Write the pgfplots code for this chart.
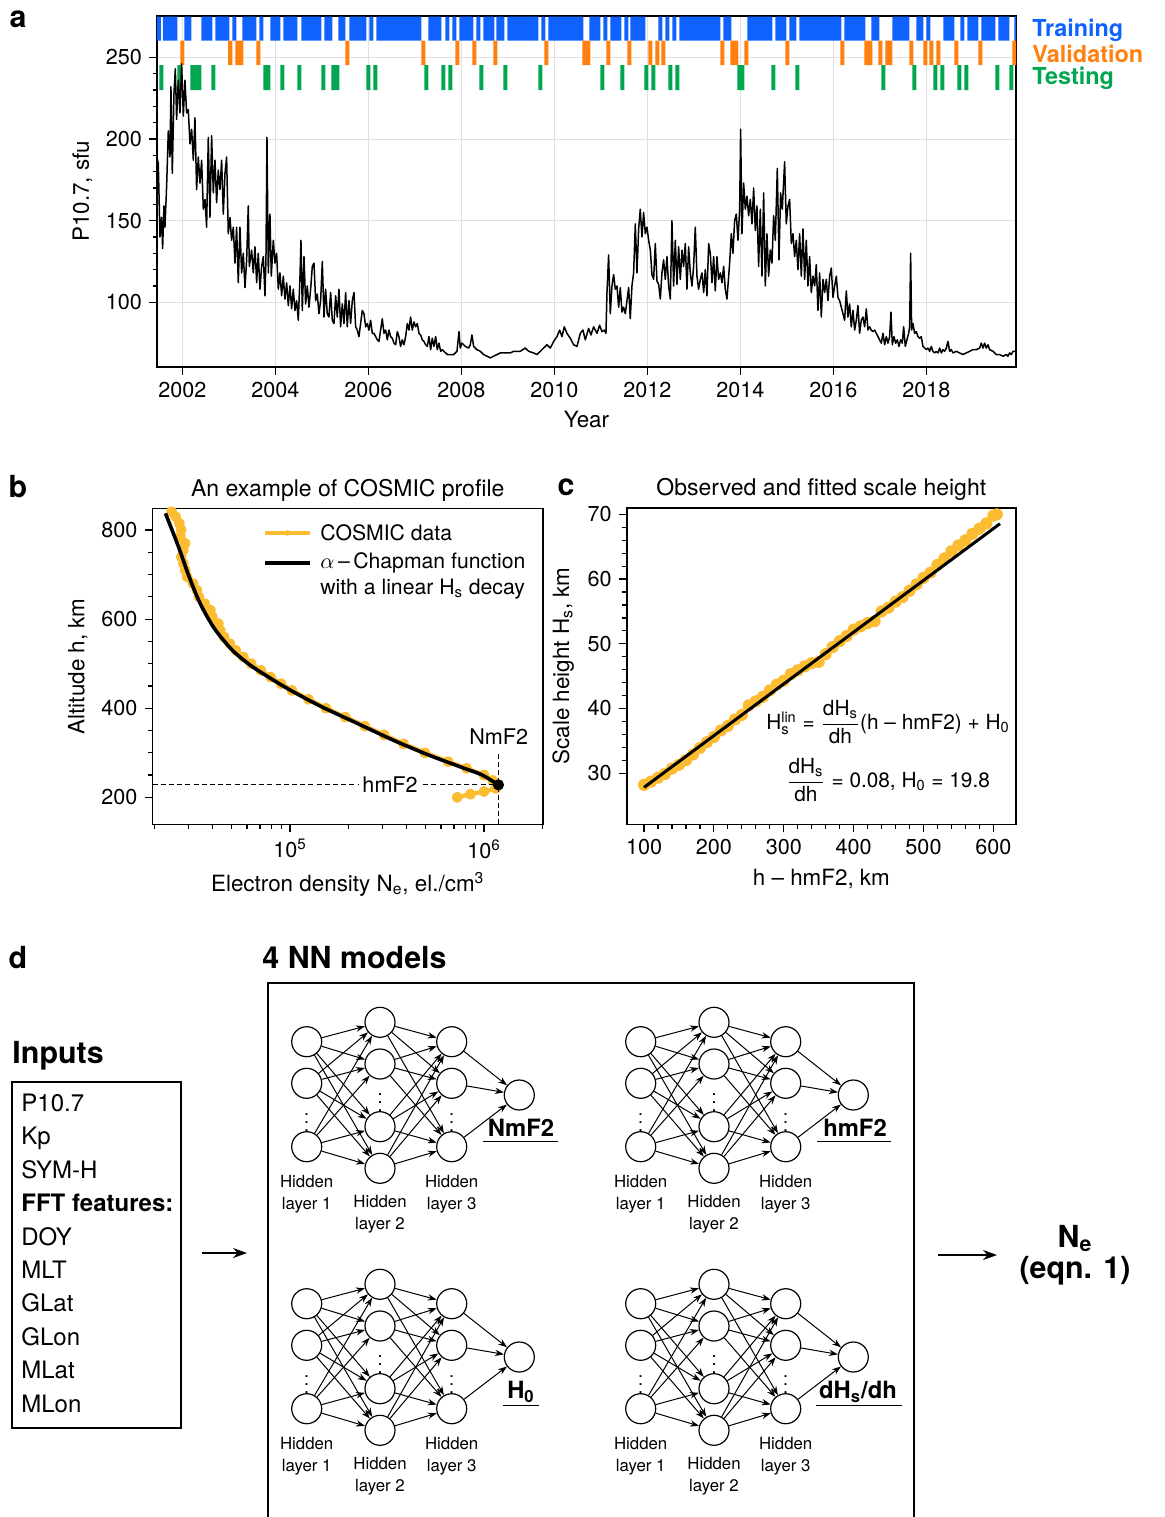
\documentclass[border=0pt]{standalone}
\usepackage{fontspec}
\setmainfont{TeX Gyre Heros}
\usepackage{pgfplots}
\pgfplotsset{compat=1.18}
\usetikzlibrary{arrows.meta}

\definecolor{cblue}{HTML}{0F62FE}
\definecolor{corange}{HTML}{FF800E}
\definecolor{cgreen}{HTML}{00A650}
\definecolor{cgold}{HTML}{FCBC32}

\pgfplotsset{
  base/.style={scale only axis, anchor=south west, tick align=outside, tick pos=left,
    major tick length=4pt, minor tick length=2.2pt,
    every tick/.style={line width=0.6pt, black},
    axis line style={line width=0.8pt},
    tick label style={font=\fontsize{10.8}{12}\selectfont},
    label style={font=\fontsize{11.2}{13}\selectfont},
    title style={font=\fontsize{11.5}{13}\selectfont, yshift=-6pt},
    /pgf/number format/assume math mode=true,
    /pgf/number format/1000 sep={}},
}
\tikzset{
  neuron/.style={circle, draw, line width=0.6pt, minimum size=15pt, inner sep=0pt},
  conn/.style={-{Stealth[length=4.5pt,width=3.2pt]}, line width=0.5pt},
  lab/.style={align=center, inner sep=0pt, font=\fontsize{8.4}{11}\selectfont},
  outlab/.style={anchor=base, inner sep=0pt, font=\bfseries\fontsize{11.9}{12}\selectfont},
  big/.style={inner sep=0pt, font=\bfseries\fontsize{15.2}{15.5}\selectfont},
}

% one network sketch, shifted by (#1,#2) pixels
\newcommand{\nnmodel}[2]{%
\begin{scope}[shift={(#1,#2)}]
  \node[neuron] (a1) at (306.7,1041.7) {};
  \node[neuron] (a2) at (306.7,1083.3) {};
  \node[neuron] (a3) at (306.7,1146.7) {};
  \node[neuron] (b1) at (380,1022.3) {};
  \node[neuron] (b2) at (380,1064) {};
  \node[neuron] (b3) at (380,1126.7) {};
  \node[neuron] (b4) at (380,1168.3) {};
  \node[neuron] (c1) at (451.7,1041.7) {};
  \node[neuron] (c2) at (451.7,1083.3) {};
  \node[neuron] (c3) at (451.7,1146.7) {};
  \node[neuron] (o) at (519.3,1095) {};
  \foreach \i in {1,2,3}{\foreach \j in {1,2,3,4}{%
    \draw[conn] (a\i) -- (b\j); \draw[conn] (b\j) -- (c\i);}}
  \foreach \i in {1,2,3}{\draw[conn] (c\i) -- (o);}
  \foreach \xx/\yy in {306.7/1116.7, 380/1096.7, 451.7/1116.7}
    \node[inner sep=0pt, font=\fontsize{9}{9}\selectfont] at (\xx,\yy) {$\vdots$};
  \node[lab] at (306.7,1194) {Hidden\\layer 1};
  \node[lab] at (380,1214) {Hidden\\layer 2};
  \node[lab] at (451.7,1194) {Hidden\\layer 3};
\end{scope}}

\begin{document}
\begin{tikzpicture}[x=0.5pt,y=-0.5pt]
\useasboundingbox (0,0) rectangle (1164,1517);

% ---------------- panel a ----------------
\begin{axis}[base, at={(78.5pt,-183.35pt)}, width=429.5pt, height=175.5pt,
  xmin=2001.456, xmax=2019.929, ymin=60.56, ymax=275.5,
  xtick={2002,2004,...,2018}, minor x tick num=3,
  ytick={100,150,200,250}, minor y tick num=4,
  grid=major, major grid style={line width=0.5pt, black!12},
  xlabel={Year}, ylabel={P10.7, sfu}, unbounded coords=jump]
% training
\addplot[fill=cblue, draw=none] coordinates {
(2001.456,260.2)(2001.542,260.2)(2001.542,274.9)(2001.456,274.9)(nan,nan)
(2001.585,260.2)(2001.892,260.2)(2001.892,274.9)(2001.585,274.9)(nan,nan)
(2002.043,260.2)(2002.194,260.2)(2002.194,274.9)(2002.043,274.9)(nan,nan)
(2002.409,260.2)(2002.645,260.2)(2002.645,274.9)(2002.409,274.9)(nan,nan)
(2002.710,260.2)(2003.011,260.2)(2003.011,274.9)(2002.710,274.9)(nan,nan)
(2003.075,260.2)(2003.161,260.2)(2003.161,274.9)(2003.075,274.9)(nan,nan)
(2003.290,260.2)(2003.591,260.2)(2003.591,274.9)(2003.290,274.9)(nan,nan)
(2003.656,260.2)(2003.742,260.2)(2003.742,274.9)(2003.656,274.9)(nan,nan)
(2003.892,260.2)(2004.108,260.2)(2004.108,274.9)(2003.892,274.9)(nan,nan)
(2004.172,260.2)(2004.473,260.2)(2004.473,274.9)(2004.172,274.9)(nan,nan)
(2004.559,260.2)(2004.989,260.2)(2004.989,274.9)(2004.559,274.9)(nan,nan)
(2005.054,260.2)(2005.226,260.2)(2005.226,274.9)(2005.054,274.9)(nan,nan)
(2005.355,260.2)(2005.505,260.2)(2005.505,274.9)(2005.355,274.9)(nan,nan)
(2005.591,260.2)(2005.957,260.2)(2005.957,274.9)(2005.591,274.9)(nan,nan)
(2006.022,260.2)(2006.108,260.2)(2006.108,274.9)(2006.022,274.9)(nan,nan)
(2006.172,260.2)(2007.140,260.2)(2007.140,274.9)(2006.172,274.9)(nan,nan)
(2007.290,260.2)(2007.570,260.2)(2007.570,274.9)(2007.290,274.9)(nan,nan)
(2007.656,260.2)(2007.742,260.2)(2007.742,274.9)(2007.656,274.9)(nan,nan)
(2007.806,260.2)(2007.892,260.2)(2007.892,274.9)(2007.806,274.9)(nan,nan)
(2007.957,260.2)(2008.258,260.2)(2008.258,274.9)(2007.957,274.9)(nan,nan)
(2008.323,260.2)(2008.409,260.2)(2008.409,274.9)(2008.323,274.9)(nan,nan)
(2008.473,260.2)(2008.710,260.2)(2008.710,274.9)(2008.473,274.9)(nan,nan)
(2008.753,260.2)(2008.925,260.2)(2008.925,274.9)(2008.753,274.9)(nan,nan)
(2008.989,260.2)(2009.656,260.2)(2009.656,274.9)(2008.989,274.9)(nan,nan)
(2009.720,260.2)(2009.806,260.2)(2009.806,274.9)(2009.720,274.9)(nan,nan)
(2009.871,260.2)(2010.624,260.2)(2010.624,274.9)(2009.871,274.9)(nan,nan)
(2010.753,260.2)(2010.989,260.2)(2010.989,274.9)(2010.753,274.9)(nan,nan)
(2011.054,260.2)(2011.140,260.2)(2011.140,274.9)(2011.054,274.9)(nan,nan)
(2011.204,260.2)(2011.441,260.2)(2011.441,274.9)(2011.204,274.9)(nan,nan)
(2011.505,260.2)(2011.591,260.2)(2011.591,274.9)(2011.505,274.9)(nan,nan)
(2011.634,260.2)(2011.957,260.2)(2011.957,274.9)(2011.634,274.9)(nan,nan)
(2012.237,260.2)(2012.323,260.2)(2012.323,274.9)(2012.237,274.9)(nan,nan)
(2012.387,260.2)(2012.473,260.2)(2012.473,274.9)(2012.387,274.9)(nan,nan)
(2012.538,260.2)(2012.624,260.2)(2012.624,274.9)(2012.538,274.9)(nan,nan)
(2012.688,260.2)(2013.570,260.2)(2013.570,274.9)(2012.688,274.9)(nan,nan)
(2013.634,260.2)(2013.806,260.2)(2013.806,274.9)(2013.634,274.9)(nan,nan)
(2014.151,260.2)(2014.688,260.2)(2014.688,274.9)(2014.151,274.9)(nan,nan)
(2014.753,260.2)(2014.989,260.2)(2014.989,274.9)(2014.753,274.9)(nan,nan)
(2015.054,260.2)(2015.204,260.2)(2015.204,274.9)(2015.054,274.9)(nan,nan)
(2015.269,260.2)(2016.172,260.2)(2016.172,274.9)(2015.269,274.9)(nan,nan)
(2016.237,260.2)(2016.688,260.2)(2016.688,274.9)(2016.237,274.9)(nan,nan)
(2016.817,260.2)(2016.989,260.2)(2016.989,274.9)(2016.817,274.9)(nan,nan)
(2017.269,260.2)(2017.634,260.2)(2017.634,274.9)(2017.269,274.9)(nan,nan)
(2017.785,260.2)(2017.935,260.2)(2017.935,274.9)(2017.785,274.9)(nan,nan)
(2018.000,260.2)(2018.086,260.2)(2018.086,274.9)(2018.000,274.9)(nan,nan)
(2018.366,260.2)(2018.602,260.2)(2018.602,274.9)(2018.366,274.9)(nan,nan)
(2018.731,260.2)(2018.817,260.2)(2018.817,274.9)(2018.731,274.9)(nan,nan)
(2018.882,260.2)(2019.118,260.2)(2019.118,274.9)(2018.882,274.9)(nan,nan)
(2019.183,260.2)(2019.484,260.2)(2019.484,274.9)(2019.183,274.9)(nan,nan)
(2019.548,260.2)(2019.785,260.2)(2019.785,274.9)(2019.548,274.9)(nan,nan)
(2019.892,260.2)(2019.929,260.2)(2019.929,274.9)(2019.892,274.9)};
% validation
\addplot[fill=corange, draw=none] coordinates {
(2001.957,245.2)(2002.043,245.2)(2002.043,260.2)(2001.957,260.2)(nan,nan)
(2002.983,245.2)(2003.075,245.2)(2003.075,260.2)(2002.983,260.2)(nan,nan)
(2003.140,245.2)(2003.312,245.2)(2003.312,260.2)(2003.140,260.2)(nan,nan)
(2003.591,245.2)(2003.677,245.2)(2003.677,260.2)(2003.591,260.2)(nan,nan)
(2005.505,245.2)(2005.591,245.2)(2005.591,260.2)(2005.505,260.2)(nan,nan)
(2007.140,245.2)(2007.226,245.2)(2007.226,260.2)(2007.140,260.2)(nan,nan)
(2007.871,245.2)(2007.957,245.2)(2007.957,260.2)(2007.871,260.2)(nan,nan)
(2008.237,245.2)(2008.323,245.2)(2008.323,260.2)(2008.237,260.2)(nan,nan)
(2008.688,245.2)(2008.774,245.2)(2008.774,260.2)(2008.688,260.2)(nan,nan)
(2009.785,245.2)(2009.871,245.2)(2009.871,260.2)(2009.785,260.2)(nan,nan)
(2010.602,245.2)(2010.774,245.2)(2010.774,260.2)(2010.602,260.2)(nan,nan)
(2011.118,245.2)(2011.204,245.2)(2011.204,260.2)(2011.118,260.2)(nan,nan)
(2011.570,245.2)(2011.656,245.2)(2011.656,260.2)(2011.570,260.2)(nan,nan)
(2012.022,245.2)(2012.108,245.2)(2012.108,260.2)(2012.022,260.2)(nan,nan)
(2012.172,245.2)(2012.258,245.2)(2012.258,260.2)(2012.172,260.2)(nan,nan)
(2012.301,245.2)(2012.387,245.2)(2012.387,260.2)(2012.301,260.2)(nan,nan)
(2013.570,245.2)(2013.656,245.2)(2013.656,260.2)(2013.570,260.2)(nan,nan)
(2013.785,245.2)(2013.957,245.2)(2013.957,260.2)(2013.785,260.2)(nan,nan)
(2014.086,245.2)(2014.172,245.2)(2014.172,260.2)(2014.086,260.2)(nan,nan)
(2014.968,245.2)(2015.054,245.2)(2015.054,260.2)(2014.968,260.2)(nan,nan)
(2016.151,245.2)(2016.237,245.2)(2016.237,260.2)(2016.151,260.2)(nan,nan)
(2016.667,245.2)(2016.839,245.2)(2016.839,260.2)(2016.667,260.2)(nan,nan)
(2016.968,245.2)(2017.054,245.2)(2017.054,260.2)(2016.968,260.2)(nan,nan)
(2017.118,245.2)(2017.269,245.2)(2017.269,260.2)(2017.118,260.2)(nan,nan)
(2017.634,245.2)(2017.720,245.2)(2017.720,260.2)(2017.634,260.2)(nan,nan)
(2017.935,245.2)(2018.022,245.2)(2018.022,260.2)(2017.935,260.2)(nan,nan)
(2018.065,245.2)(2018.151,245.2)(2018.151,260.2)(2018.065,260.2)(nan,nan)
(2018.215,245.2)(2018.301,245.2)(2018.301,260.2)(2018.215,260.2)(nan,nan)
(2018.602,245.2)(2018.688,245.2)(2018.688,260.2)(2018.602,260.2)(nan,nan)
(2019.118,245.2)(2019.204,245.2)(2019.204,260.2)(2019.118,260.2)(nan,nan)
(2019.849,245.2)(2019.929,245.2)(2019.929,260.2)(2019.849,260.2)};
% testing
\addplot[fill=cgreen, draw=none] coordinates {
(2001.505,230)(2001.591,230)(2001.591,245.2)(2001.505,245.2)(nan,nan)
(2001.892,230)(2001.978,230)(2001.978,245.2)(2001.892,245.2)(nan,nan)
(2002.172,230)(2002.409,230)(2002.409,245.2)(2002.172,245.2)(nan,nan)
(2002.624,230)(2002.710,230)(2002.710,245.2)(2002.624,245.2)(nan,nan)
(2003.742,230)(2003.892,230)(2003.892,245.2)(2003.742,245.2)(nan,nan)
(2004.108,230)(2004.194,230)(2004.194,245.2)(2004.108,245.2)(nan,nan)
(2004.473,230)(2004.559,230)(2004.559,245.2)(2004.473,245.2)(nan,nan)
(2004.989,230)(2005.075,230)(2005.075,245.2)(2004.989,245.2)(nan,nan)
(2005.204,230)(2005.376,230)(2005.376,245.2)(2005.204,245.2)(nan,nan)
(2005.957,230)(2006.043,230)(2006.043,245.2)(2005.957,245.2)(nan,nan)
(2006.108,230)(2006.194,230)(2006.194,245.2)(2006.108,245.2)(nan,nan)
(2007.204,230)(2007.290,230)(2007.290,245.2)(2007.204,245.2)(nan,nan)
(2007.570,230)(2007.656,230)(2007.656,245.2)(2007.570,245.2)(nan,nan)
(2007.720,230)(2007.806,230)(2007.806,245.2)(2007.720,245.2)(nan,nan)
(2008.387,230)(2008.473,230)(2008.473,245.2)(2008.387,245.2)(nan,nan)
(2008.903,230)(2008.989,230)(2008.989,245.2)(2008.903,245.2)(nan,nan)
(2009.656,230)(2009.742,230)(2009.742,245.2)(2009.656,245.2)(nan,nan)
(2010.989,230)(2011.075,230)(2011.075,245.2)(2010.989,245.2)(nan,nan)
(2011.419,230)(2011.505,230)(2011.505,245.2)(2011.419,245.2)(nan,nan)
(2011.935,230)(2012.022,230)(2012.022,245.2)(2011.935,245.2)(nan,nan)
(2012.086,230)(2012.172,230)(2012.172,245.2)(2012.086,245.2)(nan,nan)
(2012.452,230)(2012.538,230)(2012.538,245.2)(2012.452,245.2)(nan,nan)
(2012.602,230)(2012.688,230)(2012.688,245.2)(2012.602,245.2)(nan,nan)
(2013.935,230)(2014.086,230)(2014.086,245.2)(2013.935,245.2)(nan,nan)
(2014.667,230)(2014.753,230)(2014.753,245.2)(2014.667,245.2)(nan,nan)
(2015.183,230)(2015.269,230)(2015.269,245.2)(2015.183,245.2)(nan,nan)
(2017.032,230)(2017.118,230)(2017.118,245.2)(2017.032,245.2)(nan,nan)
(2017.699,230)(2017.785,230)(2017.785,245.2)(2017.699,245.2)(nan,nan)
(2018.151,230)(2018.237,230)(2018.237,245.2)(2018.151,245.2)(nan,nan)
(2018.301,230)(2018.387,230)(2018.387,245.2)(2018.301,245.2)(nan,nan)
(2018.667,230)(2018.753,230)(2018.753,245.2)(2018.667,245.2)(nan,nan)
(2018.817,230)(2018.903,230)(2018.903,245.2)(2018.817,245.2)(nan,nan)
(2019.484,230)(2019.570,230)(2019.570,245.2)(2019.484,245.2)(nan,nan)
(2019.785,230)(2019.871,230)(2019.871,245.2)(2019.785,245.2)};
% P10.7
\addplot[black, line width=0.75pt, line join=round] coordinates {
(2001.455,189)(2001.484,185)(2001.520,140)(2001.556,152)(2001.577,133)(2001.606,159)(2001.627,146)(2001.663,171)
(2001.699,205)(2001.735,189)(2001.756,232)(2001.785,179)(2001.821,228)(2001.850,243)(2001.878,212)(2001.914,236)
(2001.950,216)(2001.986,246)(2002.022,214)(2002.057,236)(2002.093,216)(2002.129,218)(2002.165,197)(2002.201,206)
(2002.237,187)(2002.272,213)(2002.308,169)(2002.344,189)(2002.380,173)(2002.416,187)(2002.452,157)(2002.488,163)
(2002.523,146)(2002.559,201)(2002.595,152)(2002.631,202)(2002.667,167)(2002.703,187)(2002.738,161)(2002.774,181)
(2002.810,169)(2002.846,187)(2002.882,154)(2002.918,179)(2002.953,189)(2002.989,142)(2003.025,152)(2003.061,138)
(2003.097,146)(2003.133,124)(2003.168,146)(2003.204,112)(2003.240,146)(2003.276,118)(2003.312,130)(2003.348,109)
(2003.384,126)(2003.419,159)(2003.441,122)(2003.491,132)(2003.527,118)(2003.563,134)(2003.599,112)(2003.634,130)
(2003.670,108)(2003.706,122)(2003.742,128)(2003.778,104)(2003.799,126)(2003.821,201)(2003.850,118)(2003.885,154)
(2003.914,116)(2003.957,138)(2003.993,124)(2004.029,130)(2004.065,108)(2004.100,118)(2004.136,104)(2004.172,116)
(2004.208,102)(2004.244,112)(2004.280,98)(2004.316,110)(2004.351,96)(2004.387,108)(2004.423,95)(2004.459,101)
(2004.495,89)(2004.531,116)(2004.552,138)(2004.581,95)(2004.617,128)(2004.652,99)(2004.688,110)(2004.724,97)
(2004.760,108)(2004.796,122)(2004.832,124)(2004.867,101)(2004.903,105)(2004.939,93)(2004.975,101)(2005.011,125)
(2005.047,91)(2005.082,108)(2005.118,93)(2005.154,91)(2005.190,106)(2005.226,89)(2005.262,87)(2005.298,104)
(2005.333,91)(2005.369,108)(2005.405,85)(2005.441,99)(2005.477,87)(2005.513,106)(2005.548,85)(2005.584,101)
(2005.620,87)(2005.656,101)(2005.692,106)(2005.728,85)(2005.763,83)(2005.799,79)(2005.835,87)(2005.871,95)
(2005.907,93)(2005.943,85)(2005.978,87)(2006.014,83)(2006.050,89)(2006.086,81)(2006.122,81)(2006.158,79)
(2006.194,77)(2006.229,76)(2006.265,83)(2006.301,90)(2006.337,81)(2006.373,83)(2006.409,77)(2006.444,83)
(2006.480,79)(2006.516,78)(2006.552,75)(2006.588,74)(2006.624,82)(2006.659,79)(2006.695,73)(2006.731,77)
(2006.767,74)(2006.803,79)(2006.839,87)(2006.875,83)(2006.910,91)(2006.946,83)(2006.982,88)(2007.018,85)
(2007.054,87)(2007.090,81)(2007.125,80)(2007.161,77)(2007.197,76)(2007.233,74)(2007.269,73)(2007.305,79)
(2007.341,71)(2007.376,78)(2007.412,73)(2007.448,79)(2007.484,71)(2007.520,75)(2007.556,70)(2007.591,71)
(2007.627,70)(2007.663,69)(2007.699,68)(2007.735,68)
(2007.763,68)(2007.835,68)(2007.907,70)(2007.950,82)(2007.978,72)(2008.014,75)(2008.086,73)(2008.158,72)
(2008.194,74)(2008.229,80)(2008.265,73)(2008.337,71)(2008.409,70)(2008.480,68)(2008.552,67)(2008.624,66)
(2008.695,67)(2008.767,68)(2008.839,69)(2008.910,69)(2008.982,69)(2009.054,69)(2009.125,70)(2009.197,70)
(2009.269,70)(2009.376,72)(2009.448,70)(2009.556,69)(2009.627,68)(2009.699,70)(2009.771,72)(2009.842,74)
(2009.914,72)(2009.986,76)(2010.057,79)(2010.115,83)(2010.165,79)(2010.215,85)(2010.272,81)(2010.344,78)
(2010.416,74)(2010.488,73)(2010.559,81)(2010.616,83)(2010.667,77)(2010.738,84)(2010.789,80)(2010.846,85)
(2010.918,81)(2010.975,86)(2011.025,82)(2011.075,83)(2011.111,81)(2011.133,106)(2011.168,129)(2011.204,93)
(2011.240,110)(2011.276,117)(2011.312,108)(2011.348,110)(2011.384,97)(2011.419,109)(2011.455,94)(2011.491,97)
(2011.527,93)(2011.563,101)(2011.599,109)(2011.634,90)(2011.670,110)(2011.706,118)(2011.742,148)(2011.778,118)
(2011.814,145)(2011.849,157)(2011.885,140)(2011.921,155)(2011.957,142)(2011.993,146)(2012.029,138)(2012.065,132)
(2012.100,117)(2012.136,114)(2012.172,136)(2012.208,113)(2012.244,111)(2012.280,102)(2012.315,118)(2012.351,126)
(2012.387,114)(2012.423,128)(2012.459,110)(2012.495,102)(2012.530,150)(2012.566,110)(2012.602,138)(2012.638,111)
(2012.674,134)(2012.710,114)(2012.746,132)(2012.781,122)(2012.817,136)(2012.853,108)(2012.889,134)(2012.925,118)
(2012.961,110)(2012.996,122)(2013.032,146)(2013.068,116)(2013.104,108)(2013.140,114)(2013.176,118)(2013.212,106)
(2013.247,120)(2013.283,104)(2013.319,136)(2013.355,130)(2013.391,112)(2013.427,128)(2013.462,107)(2013.498,128)
(2013.534,114)(2013.570,118)(2013.606,112)(2013.642,122)(2013.677,108)(2013.713,102)
(2013.771,124)(2013.806,142)(2013.842,130)(2013.878,150)(2013.914,154)(2013.950,138)(2013.986,157)(2014.007,206)
(2014.036,142)(2014.072,173)(2014.108,157)(2014.143,165)(2014.179,153)(2014.215,163)(2014.251,148)(2014.287,170)
(2014.323,144)(2014.358,159)(2014.394,122)(2014.430,157)(2014.466,116)(2014.502,167)(2014.538,110)(2014.573,142)
(2014.609,116)(2014.645,132)(2014.681,124)(2014.717,153)(2014.753,138)(2014.796,182)(2014.832,126)(2014.867,167)
(2014.903,157)(2014.953,186)(2014.989,148)(2015.025,159)(2015.061,163)(2015.097,136)(2015.133,142)(2015.168,128)
(2015.204,138)(2015.240,120)(2015.276,142)(2015.312,116)(2015.348,145)(2015.384,114)(2015.419,138)(2015.455,110)
(2015.491,128)(2015.527,106)(2015.563,116)(2015.599,110)(2015.634,123)(2015.670,95)(2015.706,118)(2015.742,91)
(2015.778,114)(2015.814,106)(2015.849,114)(2015.885,101)(2015.921,116)(2015.957,121)(2015.993,103)(2016.029,110)
(2016.065,116)(2016.100,103)(2016.136,101)(2016.172,97)(2016.208,93)(2016.244,89)(2016.280,107)(2016.315,91)
(2016.351,99)(2016.387,85)(2016.423,95)(2016.459,83)(2016.495,89)(2016.530,98)(2016.566,81)(2016.602,89)
(2016.638,91)(2016.674,85)(2016.710,96)(2016.746,83)(2016.781,85)(2016.817,83)(2016.853,82)(2016.889,83)
(2016.925,81)(2016.961,79)(2016.996,77)(2017.032,75)(2017.068,81)(2017.104,74)(2017.140,79)(2017.176,75)
(2017.212,79)(2017.240,94)(2017.269,74)(2017.305,79)(2017.341,75)(2017.376,77)(2017.412,73)(2017.448,77)
(2017.484,75)(2017.513,85)(2017.548,73)(2017.584,77)(2017.620,81)(2017.642,85)(2017.663,130)(2017.685,83)
(2017.713,87)(2017.749,81)(2017.785,82)(2017.821,79)(2017.857,78)(2017.892,79)(2017.928,73)(2017.964,72)
(2018.000,71)(2018.036,72)(2018.072,70)(2018.108,73)(2018.143,70)(2018.179,69)(2018.215,70)(2018.251,69)
(2018.287,72)(2018.323,69)(2018.358,71)(2018.394,70)(2018.430,72)(2018.466,76)(2018.502,70)(2018.538,71)
(2018.573,69)(2018.645,70)(2018.717,69)(2018.789,68)(2018.860,69)(2018.932,70)(2019.004,71)(2019.075,71)
(2019.147,72)(2019.183,75)(2019.219,72)(2019.255,75)(2019.290,72)(2019.326,74)(2019.362,71)(2019.434,70)
(2019.505,68)(2019.577,68)(2019.649,67)(2019.720,68)(2019.756,67)(2019.792,69)(2019.828,68)(2019.864,70)
(2019.914,70)};
\end{axis}

% ---------------- panel b ----------------
\begin{axis}[base, xmode=log, at={(76.25pt,-412.15pt)}, width=195.25pt, height=158pt,
  clip mode=individual,
  xmin=1.955e4, xmax=2.014e6, ymin=139.4, ymax=848.7,
  xtick={1e5,1e6}, xticklabels={10\textsuperscript{5},10\textsuperscript{6}},
  minor xtick={2e4,3e4,4e4,5e4,6e4,7e4,8e4,9e4,2e5,3e5,4e5,5e5,6e5,7e5,8e5,9e5,2e6},
  ytick={200,400,600,800}, minor y tick num=3,
  title={An example of COSMIC profile},
  xlabel={Electron density N\textsubscript{e}, el./cm\textsuperscript{3}},
  ylabel={Altitude h, km}]
\addplot[cgold, line width=2.2pt, mark=*, mark size=1.6pt, line join=round] coordinates {
(2.45e4,841)(2.57e4,830)(2.69e4,815)(2.75e4,800)(2.72e4,785)(2.88e4,770)(2.82e4,755)(2.75e4,740)
(2.82e4,725)(2.88e4,710)(2.95e4,695)(3.16e4,680)(3.31e4,665)(3.39e4,650)(3.63e4,635)(3.89e4,620)
(3.98e4,605)(4.27e4,590)(4.37e4,575)(4.57e4,560)(4.90e4,545)(5.25e4,530)(5.75e4,515)(6.31e4,500)
(7.08e4,485)(7.94e4,470)(9.0e4,455)(1.023e5,440)(1.245e5,420)(1.531e5,400)(1.928e5,380)(2.427e5,360)
(3.055e5,340)(3.846e5,320)(4.955e5,300)(6.53e5,280)(8.13e5,265)(1.0e6,250)(1.109e6,238)(1.186e6,228)
(1.148e6,220)(1.0e6,213)(8.51e5,207)(7.28e5,200)};
\addplot[black, line width=1.8pt, smooth] coordinates {
(2.28e4,837.4)(2.66e4,762.6)(3.02e4,695)(3.44e4,635.4)(4.07e4,579.3)(5.03e4,530.7)(6.22e4,497)
(7.69e4,470.8)(1e5,440.9)(1.452e5,403.5)(2.22e5,366.1)(3.39e5,328.7)(5.18e5,295)(7.92e5,265.1)
(9.79e5,250.1)(1.186e6,227.7)};
\addplot[black, line width=0.6pt, dash pattern=on 2.5pt off 1.6pt] coordinates {(1.955e4,228)(1.186e6,228)};
\addplot[black, line width=0.6pt, dash pattern=on 2.5pt off 1.6pt] coordinates {(1.186e6,139.4)(1.186e6,299)};
\addplot[black, only marks, mark=*, mark size=2.6pt] coordinates {(1.186e6,228)};
\node[fill=white, inner sep=1.5pt, font=\fontsize{10.8}{12}\selectfont] at (axis cs:3.28e5,228) {hmF2};
\node[font=\fontsize{10.8}{12}\selectfont] at (axis cs:1.19e6,336) {NmF2};
\end{axis}

% legend of panel b
\draw[cgold, line width=1.8pt] (265,533) -- (310,533);
\node[circle, fill=cgold, inner sep=0pt, minimum size=2.8pt] at (287.5,533) {};
\draw[black, line width=1.8pt] (265,563) -- (310,563);
\node[anchor=west, inner sep=0pt, font=\fontsize{10.6}{12}\selectfont] at (320,533) {COSMIC data};
\node[anchor=west, inner sep=0pt, font=\fontsize{10.6}{12}\selectfont] at (320,563) {$\alpha$\,–\,Chapman function};
\node[anchor=west, inner sep=0pt, font=\fontsize{10.6}{12}\selectfont] at (320,589) {with a linear H\textsubscript{s} decay};

% ---------------- panel c ----------------
\begin{axis}[base, at={(313.35pt,-412.15pt)}, width=194.65pt, height=158.3pt,
  clip mode=individual,
  xmin=75.2, xmax=632.4, ymin=22.1, ymax=71.03,
  xtick={100,200,...,600}, minor x tick num=4,
  ytick={30,40,...,70}, minor y tick num=4,
  title={Observed and fitted scale height},
  xlabel={h – hmF2, km},
  ylabel={Scale height H\textsubscript{s}, km}]
\addplot[cgold, line width=2.8pt, mark=*, mark size=1.7pt, line join=round] coordinates {
(100,28.2)(110,28.7)(120,29.3)(130,29.9)(140,30.7)(150,31.3)(160,32.0)(170,32.9)(180,33.9)(190,34.8)
(200,35.6)(210,36.6)(220,37.3)(230,38.3)(240,39.0)(250,40.5)(260,41.1)(270,41.8)(280,42.8)(290,43.7)
(300,44.3)(310,45.3)(320,45.9)(330,46.5)(340,47.0)(350,47.2)(360,48.4)(370,49.5)(380,50.4)(390,51.2)
(400,52.2)(410,52.7)(420,53.2)(430,53.5)(440,55.0)(450,55.6)(460,56.5)(470,57.2)(480,58.2)(490,59.2)
(500,60.2)(510,61.0)(520,62.2)(530,63.2)(540,64.3)(550,65.2)(560,66.0)(570,67.0)(580,67.8)(590,68.6)
(600,69.8)(605,70.0)};
\addplot[black, line width=1.5pt] coordinates {(100,27.8)(609.5,68.56)};
\end{axis}
\node[font=\fontsize{10.4}{12}\selectfont] at (888,722)
  {$\mathrm{H}^{\mathrm{lin}}_{\mathrm{s}}$ = $\displaystyle\frac{\mathrm{dH}_{\mathrm{s}}}{\mathrm{dh}}$(h – hmF2) + H\textsubscript{0}};
\node[font=\fontsize{10.4}{12}\selectfont] at (888,780)
  {$\displaystyle\frac{\mathrm{dH}_{\mathrm{s}}}{\mathrm{dh}}$ = 0.08, H\textsubscript{0} = 19.8};

% ---------------- panel labels and legend of a ----------------
\node[big] at (18,19) {a};
\node[big] at (18,487) {b};
\node[big] at (566,487) {c};
\node[big] at (18,958) {d};
\node[anchor=west, inner sep=0pt, text=cblue, font=\bfseries\fontsize{11.7}{12}\selectfont] at (1032,30) {Training};
\node[anchor=west, inner sep=0pt, text=corange, font=\bfseries\fontsize{11.7}{12}\selectfont] at (1032,54) {Validation};
\node[anchor=west, inner sep=0pt, text=cgreen, font=\bfseries\fontsize{11.7}{12}\selectfont] at (1032,78) {Testing};

% ---------------- panel d ----------------
\node[big, anchor=west] at (262,958) {4 NN models};
\node[big, anchor=west] at (12,1056) {Inputs};
\draw[line width=0.7pt] (12,1082) rectangle (181,1428);
\foreach \t [count=\k from 0] in {P10.7, Kp, SYM-H, \textbf{FFT features:}, DOY, MLT, GLat, GLon, MLat, MLon}
  \node[anchor=base west, inner sep=0pt, font=\fontsize{12}{13}\selectfont] at (21,{1111.5+33.4*\k}) {\t};
\draw[line width=0.8pt] (268,1517) -- (268,983) -- (914,983) -- (914,1517);
\nnmodel{0}{0}
\nnmodel{334}{0}
\nnmodel{0}{262}
\nnmodel{334}{262}
\node[outlab] at (521,1136.7) {NmF2};
\draw[line width=0.7pt] (483,1141.7) -- (557.5,1141.7);
\node[outlab] at (855,1136.7) {hmF2};
\draw[line width=0.7pt] (817,1141.7) -- (891,1141.7);
\node[outlab] at (521,1398.7) {H\textsubscript{0}};
\draw[line width=0.7pt] (503,1405.5) -- (539,1405.5);
\node[outlab] at (858,1398.7) {dH\textsubscript{s}/dh};
\draw[line width=0.7pt] (816,1405.5) -- (902,1405.5);
\draw[-{Stealth[length=7pt,width=5pt]}, line width=0.8pt] (202,1253) -- (247,1253);
\draw[-{Stealth[length=7pt,width=5pt]}, line width=0.8pt] (938,1255) -- (997,1255);
\node[big, align=center] at (1075,1255) {N\textsubscript{e}\\(eqn. 1)};
\end{tikzpicture}
\end{document}
